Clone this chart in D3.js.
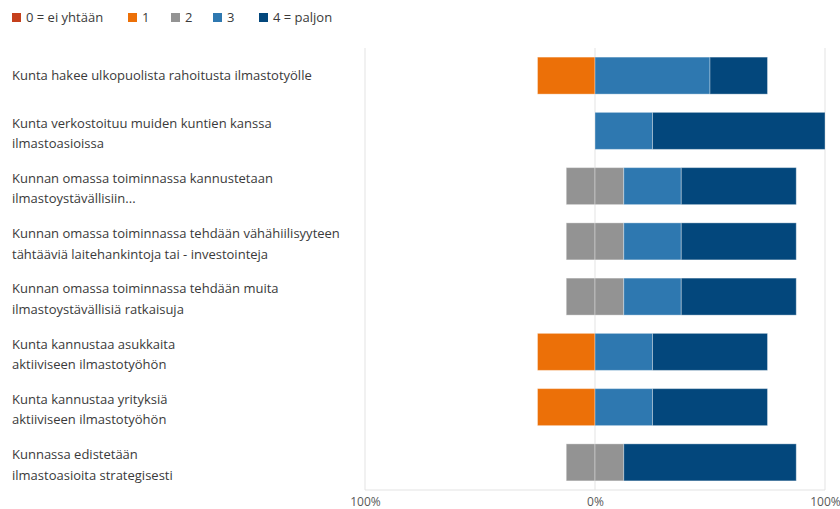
<!DOCTYPE html>
<html><head><meta charset="utf-8">
<script src="https://cdn.jsdelivr.net/npm/d3@7"></script>
<style>
html,body{margin:0;padding:0;background:#fff;}
svg{display:block;font-family:"Open Sans","Noto Sans",sans-serif;}
</style></head>
<body><svg id="c" width="840" height="509"></svg>
<script>
const categories = [
  "Kunta hakee ulkopuolista rahoitusta ilmastotyölle",
  "Kunta verkostoituu muiden kuntien kanssa\nilmastoasioissa",
  "Kunnan omassa toiminnassa kannustetaan\nilmastoystävällisiin...",
  "Kunnan omassa toiminnassa tehdään vähähiilisyyteen\ntähtääviä laitehankintoja tai - investointeja",
  "Kunnan omassa toiminnassa tehdään muita\nilmastoystävällisiä ratkaisuja",
  "Kunta kannustaa asukkaita\naktiiviseen ilmastotyöhön",
  "Kunta kannustaa yrityksiä\naktiiviseen ilmastotyöhön",
  "Kunnassa edistetään\nilmastoasioita strategisesti"
];
const seriesNames = ["0 = ei yhtään", "1", "2", "3", "4 = paljon"];
const values0 = [0, 0, 0, 0, 0, 0, 0, 0];
const values1 = [25, 0, 0, 0, 0, 25, 25, 0];
const values2 = [0, 0, 25, 25, 25, 0, 0, 25];
const values3 = [50, 25, 25, 25, 25, 25, 25, 0];
const values4 = [25, 75, 50, 50, 50, 50, 50, 75];
const tickValues = [-100, 0, 100];
const tickLabels = ["100%", "0%", "100%"];
const colors = ["#C5401C", "#EC7008", "#939393", "#2E78B0", "#03477C"];

const series = [values0, values1, values2, values3, values4];
const svg = d3.select("#c");
const x = d3.scaleLinear().domain([-100, 100]).range([365, 825]);
const y = d3.scaleBand().domain(d3.range(categories.length)).range([48, 490]).paddingInner(0.33).paddingOuter(0.165);

// gridlines
const grid = svg.append("g");
grid.selectAll("line.v").data(tickValues).join("line")
  .attr("x1", d => x(d)).attr("x2", d => x(d))
  .attr("y1", 48).attr("y2", 490)
  .attr("stroke", "#e3e3e3").attr("stroke-width", 1);
grid.append("line").attr("x1", x(-100)).attr("x2", x(100)).attr("y1", 490).attr("y2", 490)
  .attr("stroke", "#e3e3e3");

// build segments
const segs = [];
categories.forEach((c, i) => {
  const half = series[2][i] / 2;
  segs.push({i, s: 2, x0: -half, x1: 0});
  let cur = -half;
  segs.push({i, s: 1, x0: cur - series[1][i], x1: cur}); cur -= series[1][i];
  segs.push({i, s: 0, x0: cur - series[0][i], x1: cur});
  segs.push({i, s: 2, x0: 0, x1: half});
  let r = half;
  segs.push({i, s: 3, x0: r, x1: r + series[3][i]}); r += series[3][i];
  segs.push({i, s: 4, x0: r, x1: r + series[4][i]});
});
svg.append("g").selectAll("rect").data(segs.filter(d => d.x1 - d.x0 > 0)).join("rect")
  .attr("x", d => x(d.x0)).attr("width", d => x(d.x1) - x(d.x0))
  .attr("y", d => y(d.i)).attr("height", y.bandwidth())
  .attr("fill", d => colors[d.s])
  .attr("stroke", "rgba(255,255,255,0.35)").attr("stroke-width", 1);

// category labels
const lab = svg.append("g");
categories.forEach((c, i) => {
  const lines = c.split("\n");
  const cy = y(i) + y.bandwidth() / 2 + (lines.length > 1 ? 2.5 : 0);
  const t = lab.append("text").attr("x", 12).attr("font-size", 13).attr("fill", "#3a3a3a");
  lines.forEach((l, k) => {
    t.append("tspan").attr("x", 12)
      .attr("y", cy + (k - (lines.length - 1) / 2) * 20.5)
      .attr("dy", "0.35em").text(l);
  });
});

// x axis labels
const xa = svg.append("g").attr("transform", "translate(0,490)");
const axis = d3.axisBottom(x).tickValues(tickValues).tickFormat((d, k) => tickLabels[k]).tickSize(0).tickPadding(7);
xa.call(axis);
xa.select(".domain").remove();
xa.selectAll("text").attr("font-size", 12).attr("fill", "#595959").attr("font-family", "\"Open Sans\",\"Noto Sans\",sans-serif");

// legend
const legX = [12, 128, 171, 213, 259];
const leg = svg.append("g");
seriesNames.forEach((n, k) => {
  leg.append("rect").attr("x", legX[k]).attr("y", 13).attr("width", 9).attr("height", 9).attr("fill", colors[k]);
  leg.append("text").attr("x", legX[k] + 14).attr("y", 17.5).attr("dy", "0.35em")
    .attr("font-size", 13).attr("fill", "#3a3a3a").text(n);
});
</script></body></html>
